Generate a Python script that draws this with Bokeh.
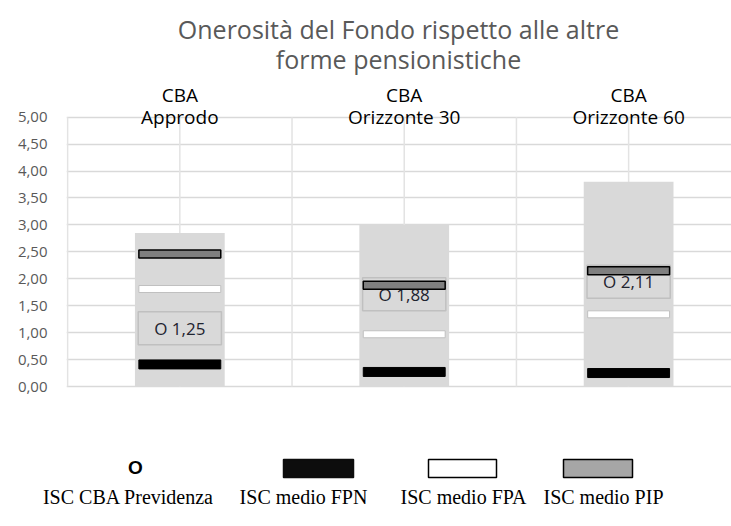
from bokeh.plotting import figure
from bokeh.models import Range1d, FixedTicker, Label, CustomJSTickFormatter
from bokeh.embed import file_html
from bokeh.resources import INLINE
from bokeh.core.properties import value

# ---------------- data ----------------
categories = ["CBA\nApprodo", "CBA\nOrizzonte 30", "CBA\nOrizzonte 60"]
isc_range_top = [2.85, 3.00, 3.80]   # light grey range bars
isc_cba = [1.25, 1.88, 2.11]         # ISC CBA Previdenza
isc_fpn = [0.41, 0.27, 0.25]         # ISC medio FPN
isc_fpa = [1.81, 0.97, 1.34]         # ISC medio FPA
isc_pip = [2.46, 1.88, 2.15]         # ISC medio PIP
y_ticks = [0.0, 0.5, 1.0, 1.5, 2.0, 2.5, 3.0, 3.5, 4.0, 4.5, 5.0]
legend_labels = ["ISC CBA Previdenza", "ISC medio FPN", "ISC medio FPA", "ISC medio PIP"]
title_lines = ["Onerosità del Fondo rispetto alle altre", "forme pensionistiche"]

# ---------------- layout (page pixels) ----------------
W = 731
H1 = 400                 # main chart figure height
H2 = 126                 # legend figure height
FL, FR, FT, FB = 66, W, 0, H1
PPU_Y = 53.86            # pixels per y unit
PPU_X = 224.4            # pixels per category
Y_ZERO = 386             # page y of value 0
X0 = -0.005
X1 = X0 + (FR - FL) / PPU_X
Y0 = -(FB - Y_ZERO) / PPU_Y
Y1 = (Y_ZERO - FT) / PPU_Y


def dx(px):
    return X0 + (px - FL) / PPU_X


def dy(py):
    return (Y_ZERO - py) / PPU_Y


FONT = "Open Sans"

p = figure(width=W, height=H1, x_range=Range1d(X0, X1), y_range=Range1d(Y0, Y1),
           x_axis_type=None, output_backend="svg", toolbar_location=None,
           min_border_left=FL, min_border_top=0, min_border_bottom=0,
           min_border_right=0)
p.outline_line_color = None
p.background_fill_color = "white"
p.border_fill_color = "white"

# y axis
p.yaxis.ticker = FixedTicker(ticks=y_ticks)
p.yaxis.formatter = CustomJSTickFormatter(code="return tick.toFixed(2).replace('.', ',');")
p.yaxis.axis_line_color = None
p.yaxis.major_tick_line_color = None
p.yaxis.minor_tick_line_color = None
p.yaxis.major_tick_out = 0
p.yaxis.major_label_standoff = 19
p.yaxis.major_label_text_font = FONT
p.yaxis.major_label_text_font_size = "15px"
p.yaxis.major_label_text_color = "#595959"

p.ygrid.ticker = FixedTicker(ticks=y_ticks)
p.ygrid.grid_line_color = "#d9d9d9"
p.ygrid.grid_line_width = 1.5

n = len(categories)
centers = [i + 0.5 for i in range(n)]

# vertical gridlines (category centres and boundaries), limited to the value axis span
gx = [k * 0.5 for k in range(2 * n + 1)]
p.segment(x0=gx, y0=[y_ticks[0]] * len(gx), x1=gx, y1=[y_ticks[-1]] * len(gx),
          line_color="#e3e3e3", line_width=1.5)

# range bars
p.vbar(x=centers, top=isc_range_top, bottom=0, width=0.4,
       fill_color="#d9d9d9", line_color=None)

# CBA labels
cba_text = ["O " + f"{v:.2f}".replace(".", ",") for v in isc_cba]
p.text(x=centers, y=isc_cba, text=cba_text, text_font=value(FONT),
       text_font_size="17px", text_color="#1f2430",
       text_align="center", text_baseline="middle", y_offset=9,
       background_fill_color="#d9d9d9", border_line_color="#c0c0c0",
       border_line_width=1.5,
       padding=dict(left=16, right=16, top=5, bottom=5))

# markers
p.rect(x=centers, y=isc_fpn, width=0.365, height=9, height_units="screen",
       fill_color="black", line_color="black")
p.rect(x=centers, y=isc_fpa, width=0.365, height=7, height_units="screen",
       fill_color="white", line_color="#c0c0c0", line_width=1)
p.rect(x=centers, y=isc_pip, width=0.365, height=8, height_units="screen",
       fill_color="#7f7f7f", line_color="black", line_width=1.5)

# category labels
for c, cat in zip(centers, categories):
    l1, l2 = cat.split("\n")
    p.add_layout(Label(x=c, y=dy(94), text=l1, text_font=FONT, text_font_size="19px",
                       text_color="black", text_align="center", text_baseline="alphabetic"))
    p.add_layout(Label(x=c, y=dy(116), text=l2, text_font=FONT, text_font_size="19px",
                       text_color="black", text_align="center", text_baseline="alphabetic"))

# title
for line, base in zip(title_lines, [28, 58]):
    p.add_layout(Label(x=dx(398), y=dy(base), text=line, text_font=FONT,
                       text_font_size="25px", text_color="#595959",
                       text_align="center", text_baseline="alphabetic"))

# ---------------- legend figure (page-pixel coordinates) ----------------
lg = figure(width=W, height=H2, x_range=Range1d(0, W), y_range=Range1d(H1 + H2, H1),
            x_axis_type=None, y_axis_type=None, output_backend="svg",
            toolbar_location=None, min_border_left=0, min_border_right=0,
            min_border_top=0, min_border_bottom=0)
lg.outline_line_color = None
lg.grid.visible = False

lg.text(x=[135], y=[467], text=["O"], text_font=value("Liberation Sans"),
        text_font_size="19px", text_font_style="bold", text_color="black",
        text_align="center", text_baseline="middle")
lg.quad(left=[283, 428, 563], right=[353, 496, 632], top=[459] * 3, bottom=[477] * 3,
        fill_color=["#0d0d0d", "white", "#a6a6a6"],
        line_color=["#0d0d0d", "black", "black"], line_width=1.5)
lg.text(x=[128, 303, 463, 603], y=[496] * 4, text=legend_labels,
        text_font=value("Liberation Serif"), text_font_size="20px",
        text_color="black", text_align="center", text_baseline="alphabetic")

open("out.html", "w").write(file_html([p, lg], INLINE))
